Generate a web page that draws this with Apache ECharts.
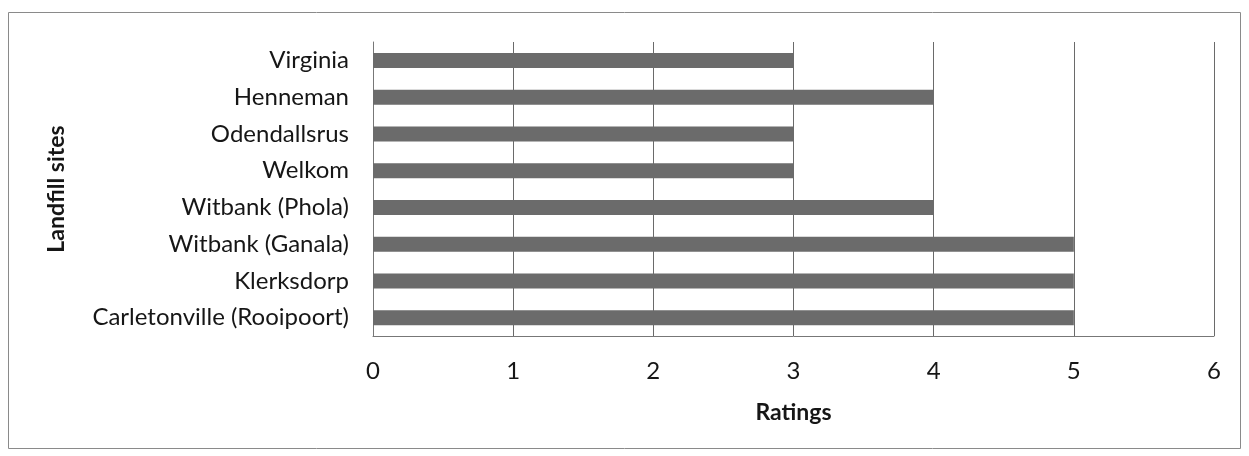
<!DOCTYPE html>
<html>
<head>
<meta charset="utf-8">
<script src="https://cdn.jsdelivr.net/npm/echarts@6/dist/echarts.min.js"></script>
<style>
  html, body { margin: 0; padding: 0; background: #fff; }
  #chart { width: 1249px; height: 456px; }
</style>
</head>
<body>
<div id="chart"></div>
<script>
// categories listed bottom to top, as the y axis draws them
const sites = [
  'Carletonville (Rooipoort)',
  'Klerksdorp',
  'Witbank (Ganala)',
  'Witbank (Phola)',
  'Welkom',
  'Odendallsrus',
  'Henneman',
  'Virginia'
];
const ratings = [5, 5, 5, 4, 3, 3, 4, 3];
const ratingTicks = [0, 1, 2, 3, 4, 5, 6];

const font = 'Lato, "Open Sans", sans-serif';
const chart = echarts.init(document.getElementById('chart'));

chart.setOption({
  backgroundColor: '#fff',
  animation: false,
  graphic: [{
    type: 'rect',
    shape: { x: 8.5, y: 12.5, width: 1232, height: 436 },
    style: { fill: 'none', stroke: '#8a8a8a', lineWidth: 1 }
  }],
  grid: { left: 373, right: 35, top: 42, bottom: 120 },
  xAxis: {
    type: 'value',
    min: ratingTicks[0],
    max: ratingTicks[ratingTicks.length - 1],
    interval: 1,
    name: 'Ratings',
    nameLocation: 'middle',
    nameGap: 65,
    nameTextStyle: { fontFamily: font, fontSize: 23, fontWeight: 'bold', color: '#161616' },
    axisLine: { show: true, lineStyle: { color: '#777', width: 1 } },
    axisTick: { show: false },
    axisLabel: { fontFamily: font, fontSize: 24, color: '#161616', margin: 23 },
    splitLine: { show: true, lineStyle: { color: '#6a6a6a', width: 1 } }
  },
  yAxis: {
    type: 'category',
    data: sites,
    name: 'Landfill sites',
    nameLocation: 'middle',
    nameRotate: 90,
    nameGap: 305,
    nameTextStyle: { fontFamily: font, fontSize: 23, fontWeight: 'bold', color: '#161616' },
    axisLine: { show: true, lineStyle: { color: '#777', width: 1 } },
    axisTick: { show: false },
    axisLabel: { fontFamily: font, fontSize: 24, color: '#161616', margin: 24 },
    splitLine: { show: false }
  },
  series: [{
    type: 'bar',
    data: ratings,
    barWidth: 15,
    itemStyle: { color: '#6b6b6b' }
  }]
});
</script>
</body>
</html>
